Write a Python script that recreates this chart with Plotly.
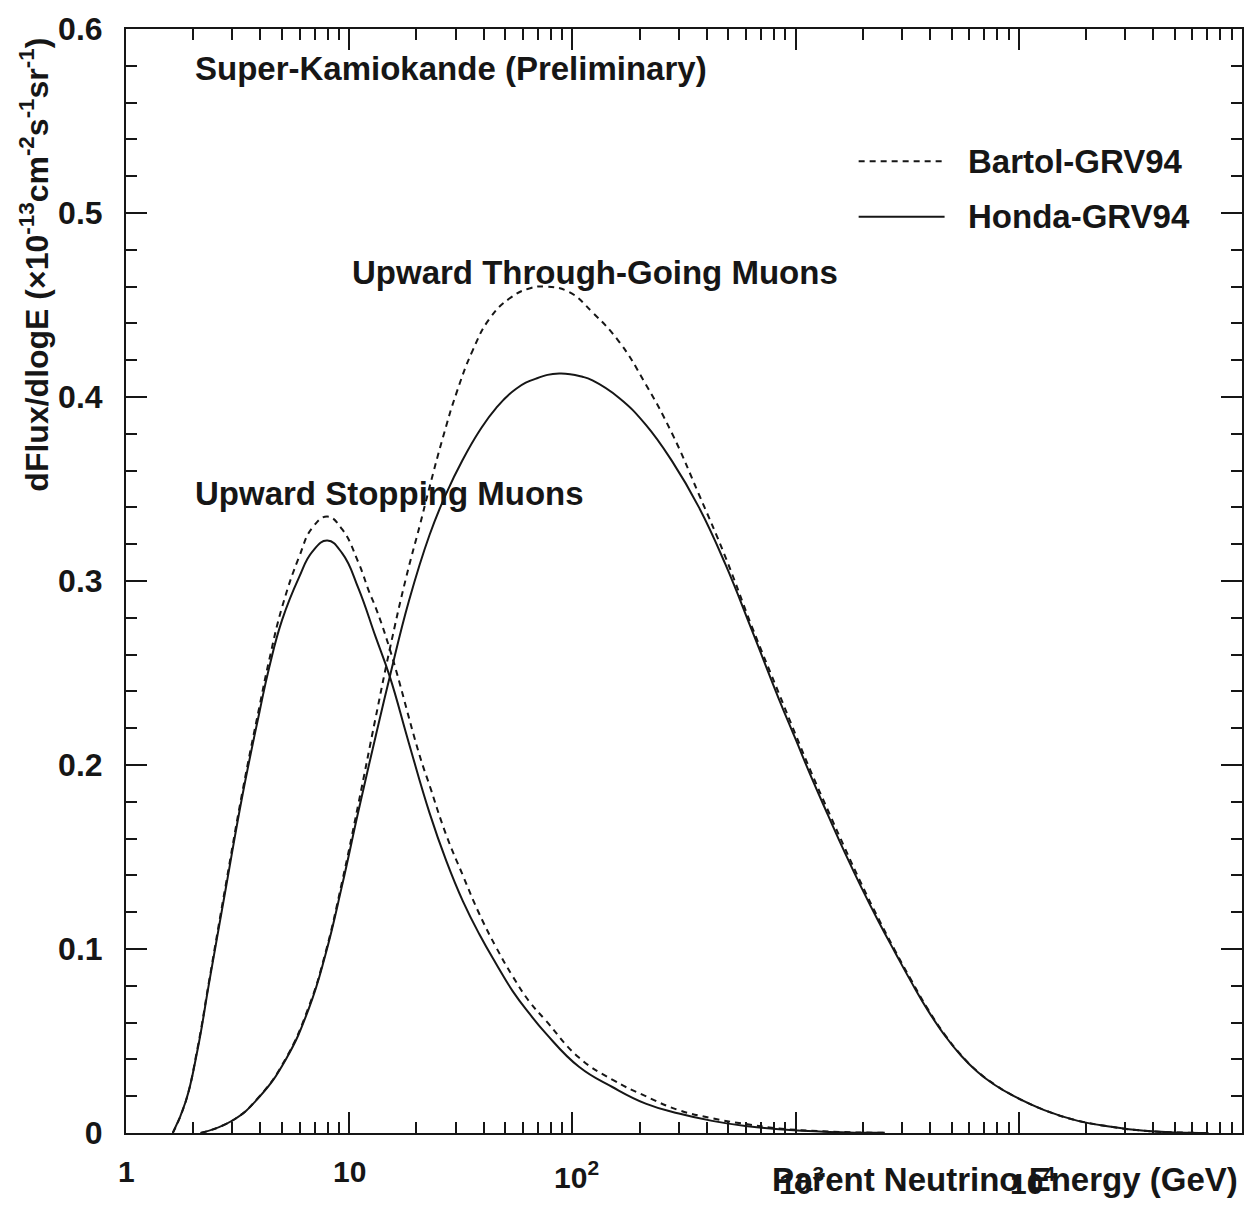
import math
import plotly.graph_objects as go

# dFlux/dlogE in units of 1e-13 cm^-2 s^-1 sr^-1 versus parent neutrino energy (GeV)

# Upward stopping muons
stop_honda_E = [1.62, 1.85, 2.09, 2.36, 2.80, 3.33, 3.95, 4.38, 5.01, 5.96, 6.84, 7.98,
                9.31, 11.0, 13.1, 15.2, 18.5, 22.9, 27.2, 32.3, 38.3, 45.5, 54.1, 64.1,
                76.2, 107, 151, 213, 300, 423, 596, 841, 1410, 2510]
stop_honda_flux = [0, 0.017, 0.045, 0.082, 0.133, 0.184, 0.228, 0.253, 0.279, 0.302, 0.316, 0.322,
                   0.315, 0.296, 0.270, 0.248, 0.212, 0.174, 0.148, 0.126, 0.108, 0.092, 0.077, 0.065,
                   0.054, 0.036, 0.025, 0.016, 0.0106, 0.0066, 0.0038, 0.002, 0.0006, 0.0001]

stop_bartol_E = [1.62, 1.85, 2.09, 2.36, 2.80, 3.33, 3.95, 4.38, 5.01, 5.96, 6.84, 7.98,
                 9.31, 11.0, 12.3, 13.1, 15.2, 20.7, 22.9, 27.2, 32.3, 38.3, 45.5, 54.1, 64.1,
                 76.2, 107, 151, 213, 300, 423, 596, 841, 1410, 2510]
stop_bartol_flux = [0, 0.017, 0.046, 0.083, 0.135, 0.186, 0.231, 0.257, 0.286, 0.313, 0.329, 0.335,
                    0.328, 0.310, 0.294, 0.286, 0.263, 0.205, 0.189, 0.162, 0.140, 0.119, 0.101, 0.085, 0.0715,
                    0.061, 0.041, 0.029, 0.020, 0.0124, 0.008, 0.0049, 0.0025, 0.0008, 0.0001]

# Upward through-going muons
thru_honda_E = [2.16, 3.00, 3.95, 5.20, 6.61, 7.83, 9.31, 11.0, 13.1, 15.2, 18.5, 22.9,
                27.2, 32.3, 38.3, 45.5, 56.0, 68.7, 87.3, 111, 123, 162, 213, 280, 369, 485,
                638, 841, 1000, 1180, 1400, 1660, 1970, 2340, 2780, 3300, 3920, 4660, 5520,
                6560, 7780, 9250, 13000, 18400, 25900, 36500, 51300, 70800]
thru_honda_flux = [0, 0.0068, 0.0195, 0.040, 0.068, 0.097, 0.135, 0.175, 0.215, 0.248, 0.289, 0.325,
                   0.3475, 0.366, 0.3815, 0.394, 0.4045, 0.410, 0.4128, 0.411, 0.409, 0.3995, 0.385, 0.365,
                   0.340, 0.309, 0.273, 0.236, 0.214, 0.193, 0.1725, 0.1525, 0.1335, 0.1155, 0.0985,
                   0.0820, 0.0665, 0.0530, 0.0420, 0.0330, 0.0262, 0.0208, 0.0124, 0.0066, 0.0034,
                   0.0012, 0.0003, 0]

thru_bartol_E = [2.16, 3.00, 3.95, 5.20, 6.61, 7.83, 9.31, 11.0, 13.1, 15.2, 18.0, 20.7, 22.9,
                 26.3, 30.2, 35.8, 42.5, 52.2, 64.1, 76.0, 96.8, 123, 162, 213, 280, 369, 485,
                 638, 841, 1000, 1180, 1400, 1660, 1970, 2340, 2780, 3300, 3920, 4660, 5520,
                 6560, 7780, 9250, 13000, 18400, 25900, 36500, 51300, 70800]
thru_bartol_flux = [0, 0.0068, 0.0197, 0.0405, 0.069, 0.098, 0.137, 0.179, 0.225, 0.263, 0.302, 0.330,
                    0.351, 0.378, 0.402, 0.4255, 0.4425, 0.4535, 0.459, 0.460, 0.457, 0.446, 0.430, 0.407,
                    0.380, 0.347, 0.313, 0.275, 0.239, 0.2165, 0.1955, 0.175, 0.155, 0.1355, 0.117,
                    0.0995, 0.083, 0.0672, 0.0535, 0.0423, 0.0332, 0.0264, 0.0209, 0.0125, 0.0067,
                    0.0034, 0.0012, 0.0003, 0]

# Axis labels
x_tick_vals = [1, 10, 100, 1000, 10000]
x_tick_text = ["1", "10", "10<sup>2</sup>", "10<sup>3</sup>", "10<sup>4</sup>"]
y_tick_vals = [0, 0.1, 0.2, 0.3, 0.4, 0.5, 0.6]
y_tick_text = ["0", "0.1", "0.2", "0.3", "0.4", "0.5", "0.6"]

model_names = ["Bartol-GRV94", "Honda-GRV94"]

FONT = "Liberation Sans, Arial, Helvetica, sans-serif"
INK = "#161616"
DASH = "6px,5px"

fig = go.Figure()

curves = [
    (stop_bartol_E, stop_bartol_flux, DASH),
    (thru_bartol_E, thru_bartol_flux, DASH),
    (stop_honda_E, stop_honda_flux, "solid"),
    (thru_honda_E, thru_honda_flux, "solid"),
]
for xs, ys, dash in curves:
    fig.add_trace(go.Scatter(
        x=xs, y=ys, mode="lines",
        line=dict(color=INK, width=2, dash=dash, shape="spline", smoothing=1.3),
        showlegend=False, hoverinfo="skip",
    ))

axis_common = dict(
    showline=True, linecolor=INK, linewidth=2, mirror="ticks",
    ticks="inside", tickcolor=INK, tickwidth=2, ticklen=21,
    showgrid=False, zeroline=False,
)

fig.update_xaxes(
    type="log", range=[0, 5], dtick=1, showticklabels=False,
    minor=dict(ticks="inside", ticklen=11, tickwidth=2, tickcolor=INK, dtick="D1", showgrid=False),
    **axis_common,
)
fig.update_yaxes(
    range=[0, 0.6], tickvals=y_tick_vals, ticktext=y_tick_text,
    tickfont=dict(family=FONT, size=32, color=INK, weight="bold"),
    ticklabelstandoff=15,
    minor=dict(ticks="inside", ticklen=11, tickwidth=2, tickcolor=INK, dtick=0.02, showgrid=False),
    **axis_common,
)

annotations = []
label_font = dict(family=FONT, size=33, color=INK, weight="bold")

# x tick labels; the two highest decades sit lower, over the axis title line
x_label_shift = [-38, -38, -42, -48, -48]
x_label_dx = [0, 0, 4, 6, 14]
for v, t, dy, dx in zip(x_tick_vals, x_tick_text, x_label_shift, x_label_dx):
    annotations.append(dict(
        x=math.log10(v), y=0, xref="x", yref="paper", text=t, showarrow=False,
        xanchor="center", yanchor="middle", yshift=dy, xshift=dx,
        font=dict(family=FONT, size=30, color=INK, weight="bold"),
    ))

annotations += [
    dict(x=1.0, y=0, xref="paper", yref="paper", xanchor="right", yanchor="middle",
         yshift=-46, xshift=-2, showarrow=False,
         text="Parent Neutrino Energy (GeV)", font=label_font),
    dict(x=-0.082, y=0.787, xref="paper", yref="paper", xanchor="center", yanchor="middle",
         textangle=-90, showarrow=False,
         text="dFlux/dlogE (\u00d710<sup>-13</sup>cm<sup>-2</sup>s<sup>-1</sup>sr<sup>-1</sup>)",
         font=dict(family=FONT, size=32, color=INK, weight="bold")),
    dict(x=0.06, y=0.964, xref="paper", yref="paper", xanchor="left", yanchor="middle",
         showarrow=False, text="Super-Kamiokande (Preliminary)", font=label_font),
    dict(x=0.2004, y=0.7795, xref="paper", yref="paper", xanchor="left", yanchor="middle",
         showarrow=False, text="Upward Through-Going Muons", font=label_font),
    dict(x=0.06, y=0.5797, xref="paper", yref="paper", xanchor="left", yanchor="middle",
         showarrow=False, text="Upward Stopping Muons", font=label_font),
]

# Legend: line samples and names
legend_y = [0.8803, 0.8299]
legend_dash = [DASH, "solid"]
shapes = []
for name, ly, dash in zip(model_names, legend_y, legend_dash):
    shapes.append(dict(type="line", xref="paper", yref="paper",
                       x0=0.6565, x1=0.7335, y0=ly, y1=ly,
                       line=dict(color=INK, width=2, dash=dash)))
    annotations.append(dict(x=0.7531, y=ly, xref="paper", yref="paper", xanchor="left",
                            yanchor="middle", showarrow=False, text=name, font=label_font))

fig.update_layout(
    width=1255, height=1215,
    margin=dict(l=126, r=11, t=22, b=82),
    paper_bgcolor="white", plot_bgcolor="white",
    annotations=annotations, shapes=shapes,
    showlegend=False,
)

fig.write_html("out.html")
